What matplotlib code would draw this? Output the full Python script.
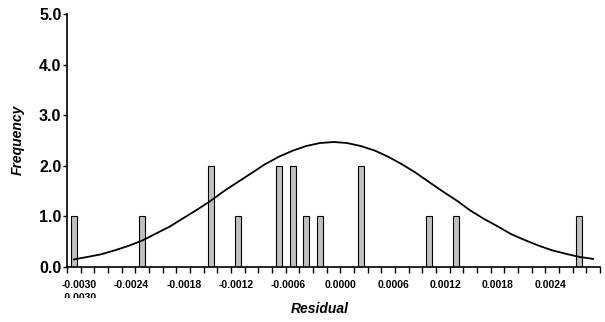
import numpy as np
import matplotlib
matplotlib.use("Agg")
import matplotlib.pyplot as plt
from matplotlib.transforms import Bbox

plt.rcParams["font.family"] = ["Liberation Sans", "DejaVu Sans"]

# histogram of residuals (bin centres, counts)
bin_width = 0.0001566
bar_x = [-0.00306, -0.00228, -0.00149, -0.00118, -0.00071, -0.00055,
         -0.00040, -0.00024, 0.00023, 0.00101, 0.00132, 0.00273]
bar_count = [1, 1, 2, 1, 2, 2, 1, 1, 2, 1, 1, 1]

curve_x = [-0.00306, -0.00290, -0.00275, -0.00259, -0.00243, -0.00228,
           -0.00212, -0.00196, -0.00181, -0.00165, -0.00149, -0.00134,
           -0.00118, -0.00102, -0.00087, -0.00071, -0.00055, -0.00040,
           -0.00024, -0.00008, 0.00007, 0.00023, 0.00039, 0.00054,
           0.00070, 0.00086, 0.00101, 0.00117, 0.00133, 0.00148,
           0.00164, 0.00180, 0.00195, 0.00211, 0.00227, 0.00242,
           0.00258, 0.00273, 0.00289]
curve_y = [0.15, 0.20, 0.25, 0.33, 0.42, 0.52, 0.66, 0.80, 0.96, 1.13,
           1.31, 1.50, 1.68, 1.86, 2.03, 2.18, 2.30, 2.39, 2.45, 2.47,
           2.45, 2.39, 2.30, 2.18, 2.03, 1.86, 1.68, 1.49, 1.31, 1.12,
           0.95, 0.80, 0.65, 0.53, 0.42, 0.33, 0.26, 0.20, 0.16]

xtick_vals = [-0.0030, -0.0024, -0.0018, -0.0012, -0.0006,
              0.0000, 0.0006, 0.0012, 0.0018, 0.0024]
ytick_vals = [0, 1, 2, 3, 4, 5]

fig = plt.figure(figsize=(6.05, 3.22), dpi=100)
ax = fig.add_axes([67 / 605, 55 / 322, 533 / 605, 253 / 322])

ax.bar(bar_x, bar_count, width=bin_width * 0.48, color="#C0C0C0",
       edgecolor="black", linewidth=0.8, zorder=2)
ax.plot(curve_x, curve_y, color="black", lw=1.3, zorder=3)

left = bar_x[0] - bin_width / 2
ax.set_xlim(left, left + 39 * bin_width)
ax.set_ylim(0, 5)

ax.set_xticks(xtick_vals)
ax.set_xticklabels([f"{v:.4f}" for v in xtick_vals], fontsize=7.5, fontweight="bold")
ax.set_xticks(left + bin_width * np.arange(40), minor=True)
ax.tick_params(axis="x", which="major", length=0, pad=9)
ax.tick_params(axis="x", which="minor", length=4, width=1, direction="out")

ax.set_yticks(ytick_vals)
ax.set_yticklabels([f"{v:.1f}" for v in ytick_vals], fontsize=11.5, fontweight="bold")
ax.tick_params(axis="y", length=3, width=1, pad=1)

for s in ["top", "right"]:
    ax.spines[s].set_visible(False)
for s in ["left", "bottom"]:
    ax.spines[s].set_linewidth(1.2)

fig.text(18 / 605, 1 - 140 / 322, "Frequency", rotation=90, ha="center", va="center",
         fontsize=10, fontweight="bold", fontstyle="italic")
fig.text(320 / 605, 1 - 309 / 322, "Residual", ha="center", va="center",
         fontsize=10, fontweight="bold", fontstyle="italic")

# stray second label under the first tick, mostly cut off
ghost = fig.text(79 / 605, 1 - 293 / 322, "-0.0030", ha="center", va="top",
                 fontsize=7.5, fontweight="bold")
ghost.set_clip_on(True)
ghost.set_clip_box(Bbox([[0, 322 - 297.5], [605, 322]]))

fig.savefig("out.png", dpi=100)
